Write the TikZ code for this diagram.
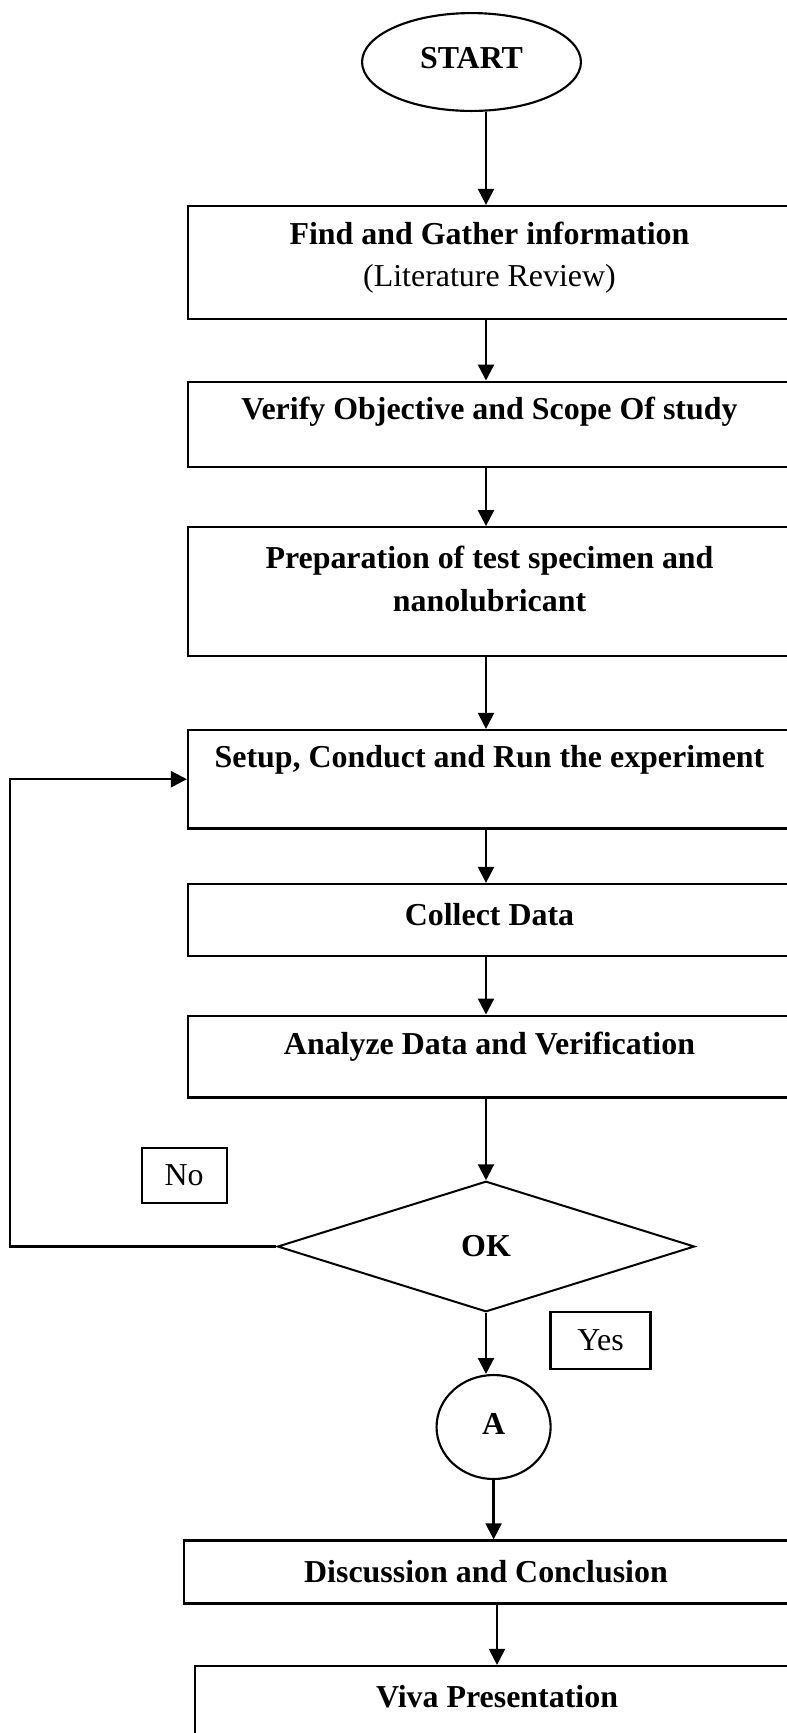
\documentclass[tikz,border=0pt]{standalone}
\usepackage{fontspec}
\setmainfont{Liberation Serif}
\usetikzlibrary{shapes.geometric,arrows.meta}

\tikzset{
	stepbox/.style={shape=rectangle, draw, line width=0.85pt, minimum width=226.7pt, inner sep=0pt},
	steptext/.style={anchor=center, align=center, inner sep=0pt, font=\fontsize{12}{16}\selectfont\bfseries},
	tagbox/.style={shape=rectangle, draw, line width=0.85pt, inner sep=0pt, font=\fontsize{12}{14}\selectfont},
	flow/.style={line width=0.85pt, -{Triangle[length=6pt,width=6pt]}}
}

\begin{document}
\begin{tikzpicture}[x=0.376pt, y=-0.376pt]
	\useasboundingbox (0,0) rectangle (787,1733);
	\clip (0,0) rectangle (787,1733);
	% Terminals, process boxes and the decision:
	\node[shape=ellipse, draw, line width=0.8pt, minimum width=82.3pt, minimum height=36.8pt, inner sep=0pt](start) at (471.5, 62){} node[steptext] at (471.5, 58){START};
	\node[stepbox, minimum height=42.5pt](find) at (489.5, 262.5){} node[steptext] at (489.5, 257.5){Find and Gather information\\\mdseries(Literature Review)};
	\node[stepbox, minimum height=32pt](verify) at (489.5, 424.2){} node[steptext] at (489.5, 411.7){Verify Objective and Scope Of study};
	\node[stepbox, minimum height=48.4pt](prep) at (489.5, 591.6){} node[steptext] at (489.5, 579.2){Preparation of test specimen and\\nanolubricant};
	\node[stepbox, minimum height=37pt](setup) at (489.5, 779.2){} node[steptext] at (489.5, 760){Setup, Conduct and Run the experiment};
	\node[stepbox, minimum height=27pt](collect) at (489.5, 919.9){} node[steptext] at (489.5, 915){Collect Data};
	\node[stepbox, minimum height=30.8pt](analyze) at (489.5, 1056.6){} node[steptext] at (489.5, 1046.7){Analyze Data and Verification};
	\node[shape=diamond, draw, line width=0.75pt, minimum width=156.8pt, minimum height=49.1pt, inner sep=0pt](ok) at (486, 1246.5){} node[steptext] at (486, 1246){OK};
	\node[tagbox, minimum width=32pt, minimum height=20.7pt](no) at (184.2, 1175.5){No};
	\node[tagbox, minimum width=37.6pt, minimum height=21.3pt](yes) at (600.6, 1340.6){Yes};
	\node[shape=ellipse, draw, line width=0.8pt, minimum width=42.9pt, minimum height=39.1pt, inner sep=0pt](A) at (493.6, 1427){} node[steptext] at (493.6, 1424){A};
	\node[stepbox, minimum width=227.1pt, minimum height=23.7pt](disc) at (486, 1572){} node[steptext] at (486, 1571.7){Discussion and Conclusion};
	\node[stepbox, minimum width=227.1pt, minimum height=37.6pt](viva) at (497, 1716){} node[steptext] at (497, 1696.7){Viva Presentation};
	% Wires:
	\coordinate (axis) at (486, 0);
	\coordinate (loopx) at (10, 0);
	\draw[flow] (start.south -| axis) -- (find.north -| axis);
	\draw[flow] (find.south -| axis) -- (verify.north -| axis);
	\draw[flow] (verify.south -| axis) -- (prep.north -| axis);
	\draw[flow] (prep.south -| axis) -- (setup.north -| axis);
	\draw[flow] (setup.south -| axis) -- (collect.north -| axis);
	\draw[flow] (collect.south -| axis) -- (analyze.north -| axis);
	\draw[flow] (analyze.south -| axis) -- (ok.north);
	\draw[flow] (ok.west) -- (ok.west -| loopx) |- (setup.west);
	\draw[flow] (ok.south) -- (A.north -| ok.south);
	\draw[flow] (A.south) -- (A.south |- disc.north);
	\draw[flow] (disc.south -| viva.north) -- (viva.north);
\end{tikzpicture}
\end{document}
